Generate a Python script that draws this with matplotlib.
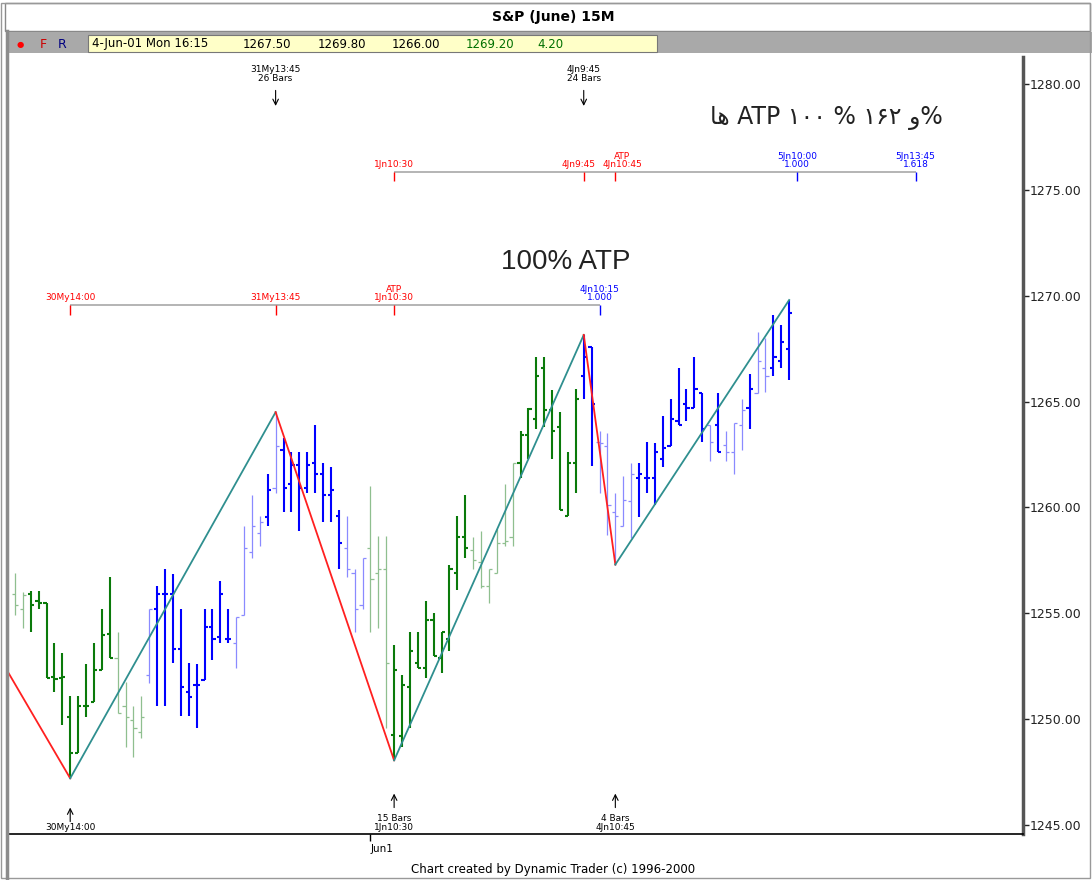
import numpy as np
import matplotlib.pyplot as plt
from matplotlib.patches import Rectangle
from matplotlib.lines import Line2D
from matplotlib.ticker import FormatStrFormatter

# S&P June futures, 15 minute bars, index 1..99 (30 May 12:15 .. 4 Jun 16:15)
highs = [1256.9, 1256.0, 1256.05, 1256.05, 1255.5, 1253.6, 1253.1, 1251.1, 1251.1, 1252.6,
         1253.6, 1255.2, 1256.7, 1254.1, 1251.75, 1250.6, 1251.1, 1255.2, 1256.3, 1257.1,
         1256.85, 1255.2, 1252.65, 1252.6, 1255.2, 1255.2, 1256.5, 1255.2, 1254.8, 1259.1,
         1260.6, 1259.6, 1261.6, 1264.5, 1263.3, 1262.6, 1262.6, 1262.6, 1263.9, 1262.1,
         1261.9, 1259.9, 1259.6, 1257.1, 1257.6, 1261.0, 1258.65, 1258.65, 1253.5, 1252.1,
         1254.1, 1254.1, 1255.6, 1255.0, 1254.1, 1257.3, 1259.6, 1260.6, 1258.6, 1258.9,
         1257.1, 1259.0, 1261.1, 1262.1, 1263.6, 1264.7, 1267.1, 1267.1, 1265.55, 1264.5,
         1262.6, 1265.6, 1268.15, 1267.6, 1263.6, 1263.5, 1260.7, 1261.5, 1262.1, 1262.1,
         1263.1, 1263.05, 1264.3, 1265.1, 1266.6, 1265.6, 1267.1, 1265.4, 1263.9, 1265.4,
         1263.6, 1264.0, 1265.1, 1266.3, 1268.3, 1268.0, 1269.1, 1268.6, 1269.8]
lows = [1254.9, 1254.3, 1254.1, 1255.2, 1251.95, 1251.3, 1249.7, 1247.2, 1248.4, 1250.1,
        1250.8, 1252.3, 1252.9, 1250.3, 1248.7, 1248.2, 1249.1, 1251.7, 1250.6, 1250.6,
        1252.65, 1250.15, 1250.15, 1249.6, 1251.85, 1252.8, 1253.6, 1253.6, 1252.4, 1254.9,
        1257.6, 1258.2, 1259.1, 1260.7, 1259.8, 1259.8, 1258.9, 1260.7, 1260.7, 1259.3,
        1259.3, 1257.1, 1256.7, 1254.1, 1255.2, 1254.1, 1254.3, 1249.6, 1248.05, 1248.7,
        1249.6, 1252.4, 1251.95, 1253.0, 1252.2, 1253.2, 1256.1, 1257.6, 1257.1, 1256.2,
        1255.5, 1256.9, 1258.2, 1258.2, 1261.4, 1262.3, 1263.7, 1263.8, 1262.3, 1259.9,
        1259.6, 1260.7, 1265.1, 1261.95, 1260.7, 1258.7, 1257.3, 1259.1, 1258.55, 1259.55,
        1260.7, 1260.1, 1261.9, 1262.9, 1263.9, 1264.1, 1264.7, 1263.1, 1262.2, 1262.6,
        1262.2, 1261.6, 1262.7, 1263.7, 1265.4, 1265.45, 1266.2, 1266.6, 1266.0]
opens = [1255.9, 1255.2, 1255.9, 1255.6, 1255.5, 1252.0, 1251.95, 1250.1, 1248.4, 1250.6,
         1250.8, 1252.3, 1254.0, 1252.9, 1250.6, 1249.95, 1249.4, 1252.1, 1255.2, 1255.9,
         1255.9, 1253.3, 1251.3, 1251.6, 1251.85, 1254.35, 1253.9, 1253.8, 1253.6, 1254.9,
         1257.9, 1258.8, 1259.55, 1260.9, 1262.7, 1261.1, 1262.0, 1260.9, 1262.1, 1261.6,
         1260.6, 1259.6, 1258.1, 1256.9, 1255.4, 1258.1, 1256.9, 1257.1, 1249.25, 1249.2,
         1251.5, 1252.65, 1252.4, 1254.7, 1252.9, 1253.8, 1256.9, 1258.6, 1258.0, 1257.4,
         1256.3, 1256.9, 1258.3, 1258.6, 1262.1, 1263.4, 1264.2, 1266.6, 1264.6, 1263.8,
         1259.6, 1262.1, 1266.2, 1267.6, 1263.1, 1262.9, 1259.8, 1259.1, 1260.3, 1261.4,
         1261.4, 1261.4, 1262.3, 1262.9, 1264.1, 1264.9, 1264.7, 1265.4, 1263.9, 1263.9,
         1262.95, 1262.6, 1263.9, 1264.7, 1265.4, 1266.6, 1266.6, 1266.9, 1267.5]
closes = [1255.4, 1255.85, 1255.4, 1255.5, 1251.95, 1251.9, 1252.0, 1248.4, 1250.6, 1250.6,
          1252.3, 1253.97, 1252.9, 1250.3, 1250.1, 1249.6, 1250.1, 1255.2, 1255.9, 1255.9,
          1253.3, 1251.5, 1251.05, 1251.6, 1254.35, 1253.8, 1255.9, 1253.8, 1254.8, 1258.1,
          1259.1, 1259.3, 1260.8, 1262.9, 1260.9, 1262.0, 1260.9, 1262.0, 1261.6, 1260.6,
          1260.8, 1258.3, 1257.1, 1255.2, 1257.6, 1256.6, 1257.1, 1252.65, 1252.3, 1251.6,
          1253.2, 1252.4, 1254.7, 1253.0, 1254.1, 1257.1, 1258.6, 1258.1, 1257.5, 1256.3,
          1257.1, 1258.3, 1258.4, 1262.1, 1263.4, 1264.65, 1266.2, 1264.6, 1263.6, 1259.9,
          1262.1, 1265.1, 1267.1, 1264.9, 1263.05, 1260.1, 1259.6, 1260.35, 1261.6, 1261.6,
          1261.4, 1262.6, 1262.8, 1264.2, 1263.9, 1264.7, 1265.6, 1263.7, 1263.1, 1262.6,
          1262.6, 1264.0, 1264.6, 1265.6, 1266.9, 1266.2, 1267.1, 1267.8, 1269.2]
# bar colour code: G/g = green dark/light, B/b = blue dark/light
bar_shade = ("gg" + "G" * 11 + "gggg" + "b" + "B" * 10 + "bbbb" + "B" + "b" + "B" * 8 + "bbb"
             + "ggg" + "G" * 10 + "g" * 6 + "G" * 8 + "BB" + "b" * 5 + "B" * 9 + "b" + "B"
             + "bbb" + "B" + "bb" + "BBB")

# swing zigzag (bar index, price)
swing_idx = [0, 8, 34, 49, 73, 77, 99]
swing_px = [1252.3, 1247.2, 1264.5, 1248.05, 1268.15, 1257.3, 1269.8]

# ATP projection rulers
atp1_level = 1269.55
atp1_idx = [8, 34, 49, 75]
atp1_lbl = ["30My14:00", "31My13:45", "ATP\n1Jn10:30", "4Jn10:15\n1.000"]
atp1_col = ["r", "r", "r", "b"]
atp2_level = 1275.85
atp2_idx = [49, 73, 77, 100, 115]
atp2_lbl = ["1Jn10:30", "4Jn9:45", "ATP\n4Jn10:45", "5Jn10:00\n1.000", "5Jn13:45\n1.618"]
atp2_col = ["r", "r", "r", "b", "b"]

# bar-count arrows
top_idx = [34, 73]
top_lbl = ["31My13:45\n26 Bars", "4Jn9:45\n24 Bars"]
bot_idx = [8, 49, 77]
bot_lbl = ["30My14:00", "15 Bars\n1Jn10:30", "4 Bars\n4Jn10:45"]

header_vals = ["1267.50", "1269.80", "1266.00", "1269.20", "4.20"]

W, H = 1092, 880


def fx(x):
    return x / W


def fy(y):
    return 1 - y / H


fig = plt.figure(figsize=(W / 100, H / 100), dpi=100)
ax = fig.add_axes([fx(7), fy(834), fx(1023) - fx(7), fy(57) - fy(834)])

palette = {"G": "#0a7a0a", "g": "#8fbf8f", "B": "#0000ff", "b": "#8a8aff"}
widths = {"G": 1.5, "g": 0.9, "B": 1.5, "b": 0.9}
idx = np.arange(1, len(highs) + 1)
for i, h, l, o, c, s in zip(idx, highs, lows, opens, closes, bar_shade):
    col, lw = palette[s], widths[s]
    ax.vlines(i, l, h, color=col, lw=lw)
    ax.hlines(o, i - 0.4, i, color=col, lw=lw)
    ax.hlines(c, i, i + 0.4, color=col, lw=lw)

for k in range(len(swing_idx) - 1):
    col = "#ff2020" if swing_px[k + 1] < swing_px[k] else "#2f8f8f"
    ax.plot(swing_idx[k:k + 2], swing_px[k:k + 2], color=col, lw=1.3)

txt_col = {"r": "#ff0000", "b": "#0000ff"}
for level, xs, labels, cols in [(atp1_level, atp1_idx, atp1_lbl, atp1_col),
                                (atp2_level, atp2_idx, atp2_lbl, atp2_col)]:
    ax.hlines(level, xs[0], xs[-1], color="#a8a8a8", lw=1.2)
    for i, lbl, c in zip(xs, labels, cols):
        ax.vlines(i, level - 0.45, level, color=txt_col[c], lw=1)
        # the two 4 June labels sit close together: nudge them apart a little
        dx = {"4Jn9:45": -4, "ATP\n4Jn10:45": 5}.get(lbl, 0)
        ax.annotate(lbl, (i, level), xytext=(dx, 2), textcoords="offset points",
                    ha="center", va="bottom", color=txt_col[c], fontsize=6.5,
                    linespacing=0.95)

trans = ax.get_xaxis_transform()
for i, lbl in zip(top_idx, top_lbl):
    ax.text(i, 0.990, lbl, transform=trans, ha="center", va="top", fontsize=6.5,
            linespacing=1.0)
    ax.annotate("", xy=(i, 0.937), xytext=(i, 0.957), xycoords=trans, textcoords=trans,
                arrowprops=dict(arrowstyle="->", lw=0.8, color="black",
                                shrinkA=0, shrinkB=0))
for i, lbl in zip(bot_idx, bot_lbl):
    ax.text(i, 0.003, lbl, transform=trans, ha="center", va="bottom", fontsize=6.5,
            linespacing=1.0)
    y0 = 0.016 if "\n" not in lbl else 0.034
    ax.annotate("", xy=(i, y0 + 0.018), xytext=(i, y0), xycoords=trans, textcoords=trans,
                arrowprops=dict(arrowstyle="->", lw=0.8, color="black",
                                shrinkA=0, shrinkB=0))

ax.text(70.7, 1271.6, "100% ATP", ha="center", va="center", fontsize=20,
        family="Liberation Sans", color="#222222")
persian = "\uFE8E\uFEEB ATP \u06F1\u06F0\u06F0 % \u06F1\u06F6\u06F2 \uFEED%"
ax.text(103.7, 1278.4, persian, ha="center", va="center", fontsize=17,
        family=["DejaVu Sans"], color="#222222")

ax.set_xlim(0, 128.6)
ax.set_ylim(1244.57, 1281.28)
ax.yaxis.tick_right()
ax.set_yticks(np.arange(1245, 1281, 5))
ax.yaxis.set_major_formatter(FormatStrFormatter("%.2f"))
ax.tick_params(axis="y", length=4, width=1, pad=1, labelsize=9, colors="#222222")
ax.set_xticks([46])
ax.set_xticklabels(["Jun1"], fontsize=7.5)
for t in ax.get_xticklabels():
    t.set_horizontalalignment("left")
ax.tick_params(axis="x", length=5, width=1, pad=2)
ax.spines["top"].set_visible(False)
ax.spines["left"].set_visible(False)
ax.spines["right"].set_color("#555555")
ax.spines["right"].set_linewidth(2.5)
ax.spines["bottom"].set_color("black")
ax.spines["bottom"].set_linewidth(1.2)

# window chrome: title bar, data strip, borders
fig.add_artist(Rectangle((fx(5), fy(31)), fx(1090) - fx(5), 28 / H, transform=fig.transFigure,
                         facecolor="white", edgecolor="#888888", lw=1))
fig.text(fx(553), fy(17), "S&P (June) 15M", ha="center", va="center", fontsize=10,
         fontweight="bold")
fig.add_artist(Rectangle((fx(7), fy(53)), fx(1092) - fx(7), 21 / H, transform=fig.transFigure,
                         facecolor="#a9a9a9", edgecolor="none"))
fig.add_artist(Rectangle((fx(88), fy(52)), fx(657) - fx(88), 17 / H, transform=fig.transFigure,
                         facecolor="#ffffc8", edgecolor="#777777", lw=0.8))
fig.text(fx(20), fy(44), "\u25cf", color="red", fontsize=6, ha="center", va="center")
fig.text(fx(43), fy(44), "F", color="#cc0000", fontsize=9, ha="center", va="center")
fig.text(fx(62), fy(44), "R", color="#000080", fontsize=9, ha="center", va="center")
fig.text(fx(92), fy(44), "4-Jun-01 Mon 16:15", fontsize=8.5, ha="left", va="center")
for x, v, c in zip([243, 318, 392, 466, 537], header_vals,
                   ["black", "black", "black", "#007000", "#007000"]):
    fig.text(fx(x), fy(44), v, fontsize=8.5, ha="left", va="center", color=c)
fig.add_artist(Line2D([fx(7), fx(7)], [0, fy(31)], transform=fig.transFigure,
                      color="#8c8c8c", lw=2.5))
fig.add_artist(Rectangle((fx(1), fy(878)), fx(1090) - fx(1), 875 / H,
                         transform=fig.transFigure, facecolor="none",
                         edgecolor="#999999", lw=1))
fig.text(fx(553), fy(869), "Chart created by Dynamic Trader (c) 1996-2000", ha="center",
         va="center", fontsize=8.5)

fig.savefig("out.png", dpi=100)
